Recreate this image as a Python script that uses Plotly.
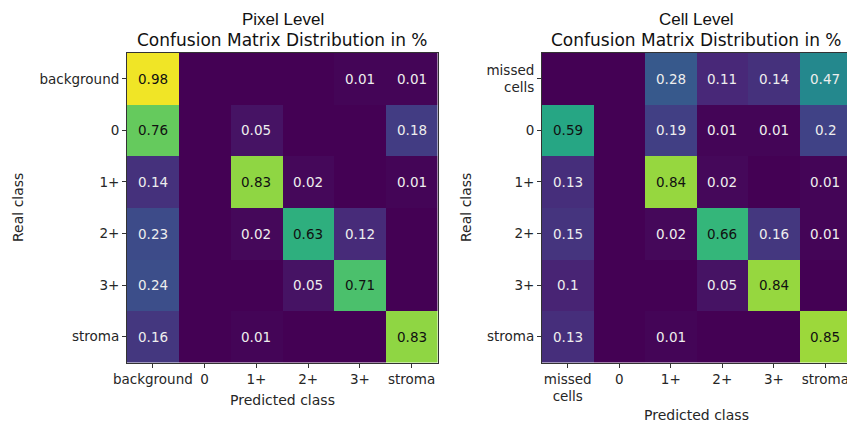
import plotly.graph_objects as go

# Pixel-level confusion matrix (rows: real class, columns: predicted class)
pixel_labels = ["background", "0", "1+", "2+", "3+", "stroma"]
pixel_values = [
    [0.98, 0.00, 0.00, 0.00, 0.01, 0.01],
    [0.76, 0.00, 0.05, 0.00, 0.00, 0.18],
    [0.14, 0.00, 0.83, 0.02, 0.00, 0.01],
    [0.23, 0.00, 0.02, 0.63, 0.12, 0.00],
    [0.24, 0.00, 0.00, 0.05, 0.71, 0.00],
    [0.16, 0.00, 0.01, 0.00, 0.00, 0.83],
]

# Cell-level confusion matrix
cell_labels = ["missed<br>cells", "0", "1+", "2+", "3+", "stroma"]
cell_values = [
    [0.00, 0.00, 0.28, 0.11, 0.14, 0.47],
    [0.59, 0.00, 0.19, 0.01, 0.01, 0.20],
    [0.13, 0.00, 0.84, 0.02, 0.00, 0.01],
    [0.15, 0.00, 0.02, 0.66, 0.16, 0.01],
    [0.10, 0.00, 0.00, 0.05, 0.84, 0.00],
    [0.13, 0.00, 0.01, 0.00, 0.00, 0.85],
]

W, H = 847, 423
FONT = "DejaVu Sans"
TICK = 13.5
CELL = 13.5
LABEL = 14
AX_COL = "#333333"


def px(x):
    return x / W


def py(y):
    return 1 - y / H


fig = go.Figure()

panels = [
    dict(values=pixel_values, labels=pixel_labels, xa="x", ya="y",
         xdom=[px(127), px(437.5)], xr=[-0.5, 5.5]),
    dict(values=cell_values, labels=cell_labels, xa="x2", ya="y2",
         xdom=[px(542), 1.0], xr=[-0.5, 5.42]),
]

annotations = []
for i, p in enumerate(panels):
    n = len(p["labels"])
    fig.add_trace(go.Heatmap(
        z=p["values"], x=list(range(n)), y=list(range(n)),
        colorscale="Viridis", zmin=0, zmax=1, showscale=False,
        xaxis=p["xa"], yaxis=p["ya"], hoverinfo="skip",
    ))
    for r, row in enumerate(p["values"]):
        for c, v in enumerate(row):
            if v == 0:
                continue
            annotations.append(dict(
                x=c, y=r, xref=p["xa"], yref=p["ya"], text=f"{v:g}",
                showarrow=False,
                font=dict(family=FONT, size=CELL,
                          color="#111111" if v > 0.5 else "#eeeeee"),
            ))

    suffix = "" if i == 0 else "2"
    fig.update_layout(**{
        "xaxis" + suffix: dict(
            domain=p["xdom"], range=p["xr"], anchor="y" + suffix,
            automargin=False, ticklabeloverflow="allow",
            tickvals=list(range(n)), ticktext=p["labels"],
            ticks="outside", ticklen=4, tickcolor=AX_COL,
            showline=True, linecolor=AX_COL, linewidth=1, mirror=True,
            showgrid=False, zeroline=False,
            tickfont=dict(family=FONT, size=TICK, color="#262626"),
        ),
        "yaxis" + suffix: dict(
            domain=[py(362.5), py(53)], range=[n - 0.5, -0.5],
            anchor="x" + suffix, automargin=False, ticklabeloverflow="allow",
            tickvals=list(range(n)), ticktext=p["labels"],
            ticks="outside", ticklen=4, tickcolor=AX_COL,
            showline=True, linecolor=AX_COL, linewidth=1,
            mirror=True if i == 0 else False,
            showgrid=False, zeroline=False,
            tickfont=dict(family=FONT, size=TICK, color="#262626"),
        ),
    })

# Titles and axis labels
titles = [("Pixel Level", 282.5), ("Cell Level", 696)]
for t, cx in titles:
    annotations.append(dict(
        x=px(cx), y=py(20), xref="paper", yref="paper", text=t,
        showarrow=False, xanchor="center", yanchor="middle",
        font=dict(family="Liberation Sans", size=17, color="#111111"),
    ))
    annotations.append(dict(
        x=px(cx), y=py(40), xref="paper", yref="paper",
        text="Confusion Matrix Distribution in %",
        showarrow=False, xanchor="center", yanchor="middle",
        font=dict(family=FONT, size=17, color="#111111"),
    ))

for cx, cy in [(282.5, 400), (696, 415)]:
    annotations.append(dict(
        x=px(cx), y=py(cy), xref="paper", yref="paper", text="Predicted class",
        showarrow=False, xanchor="center", yanchor="middle",
        font=dict(family=FONT, size=LABEL, color="#262626"),
    ))

for cx in [18, 466]:
    annotations.append(dict(
        x=px(cx), y=py(208), xref="paper", yref="paper", text="Real class",
        showarrow=False, xanchor="center", yanchor="middle", textangle=-90,
        font=dict(family=FONT, size=LABEL, color="#262626"),
    ))

fig.update_layout(
    width=W, height=H,
    margin=dict(l=0, r=0, t=0, b=0, autoexpand=False),
    paper_bgcolor="white", plot_bgcolor="white",
    annotations=annotations,
    showlegend=False,
)

fig.write_html("out.html")
